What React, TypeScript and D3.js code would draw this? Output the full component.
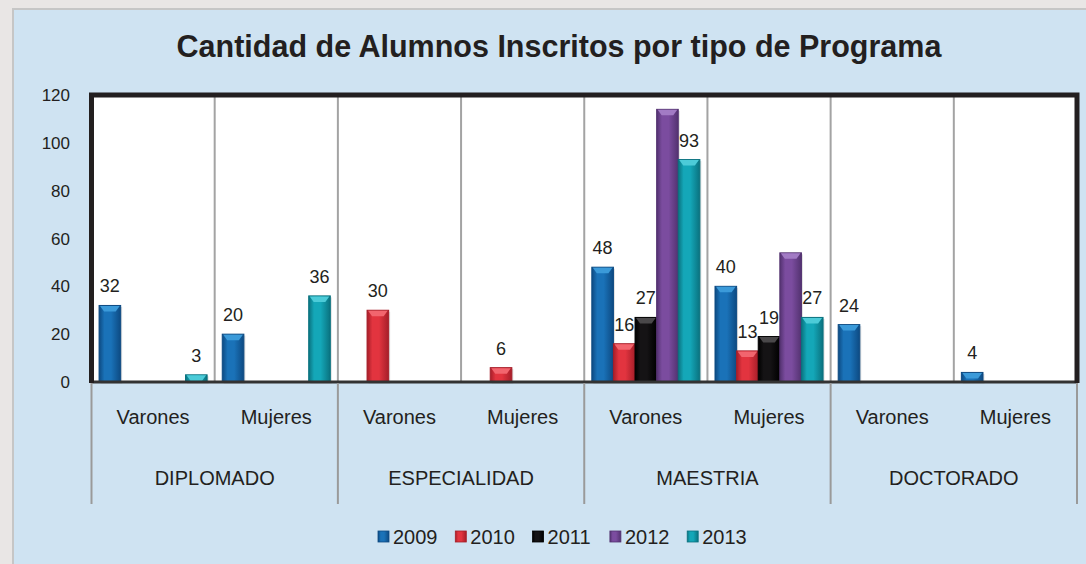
import React, { useEffect, useRef } from 'react';
import * as d3 from 'd3';

const programs = ['DIPLOMADO', 'ESPECIALIDAD', 'MAESTRIA', 'DOCTORADO'];
const genders = ['Varones', 'Mujeres'];
const years = ['2009', '2010', '2011', '2012', '2013'];

// one value per program x gender, in the order above
const values2009 = [32, 20, 0, 0, 48, 40, 24, 4];
const values2010 = [0, 0, 30, 6, 16, 13, 0, 0];
const values2011 = [0, 0, 0, 0, 27, 19, 0, 0];
const values2012 = [0, 0, 0, 0, 114, 54, 0, 0];
const values2013 = [3, 36, 0, 0, 93, 27, 0, 0];
const seriesValues = [values2009, values2010, values2011, values2012, values2013];
const labelled = [true, true, true, false, true];

const yTicks = [0, 20, 40, 60, 80, 100, 120];

// base / dark edge / light highlight
const palette = [
  ['#1a72b8', '#0d4a82', '#3b9ad9'],
  ['#e2343f', '#a61e29', '#f2656e'],
  ['#151315', '#000000', '#4a484a'],
  ['#7b4c9f', '#533270', '#a27bc4'],
  ['#14a7b8', '#0a727f', '#4ccbd8'],
];

const title = 'Cantidad de Alumnos Inscritos por tipo de Programa';
const font = '"Liberation Sans", Arial, sans-serif';

const App = () => {
  const ref = useRef<SVGSVGElement>(null);

  useEffect(() => {
    document.body.style.margin = '0';
    const svg = d3.select(ref.current);
    svg.selectAll('*').remove();

    const left = 91.5;
    const right = 1077;
    const top = 95;
    const bottom = 382;

    const keys = programs.flatMap((p) => genders.map((g) => `${p}|${g}`));
    const x = d3.scaleBand().domain(keys).range([left, right]).padding(0);
    const xProg = d3.scaleBand().domain(programs).range([left, right]).padding(0);
    const xYear = d3
      .scaleBand()
      .domain(years)
      .range([0, x.bandwidth()])
      .paddingInner(0)
      .paddingOuter(0.35);
    const y = d3.scaleLinear().domain([0, 120]).range([bottom, top]);

    const defs = svg.append('defs');
    palette.forEach((c, i) => {
      const g = defs
        .append('linearGradient')
        .attr('id', `grad${i}`)
        .attr('x1', 0)
        .attr('x2', 1)
        .attr('y1', 0)
        .attr('y2', 0);
      g.append('stop').attr('offset', '0%').attr('stop-color', c[1]);
      g.append('stop').attr('offset', '25%').attr('stop-color', c[0]);
      g.append('stop').attr('offset', '55%').attr('stop-color', c[0]);
      g.append('stop').attr('offset', '100%').attr('stop-color', c[1]);
    });

    // page + chart box
    svg.append('rect').attr('width', 1086).attr('height', 564).attr('fill', '#e9e6e5');
    svg
      .append('rect')
      .attr('x', 13)
      .attr('y', 9)
      .attr('width', 1090)
      .attr('height', 570)
      .attr('fill', '#cfe3f2')
      .attr('stroke', '#c6c6c6')
      .attr('stroke-width', 2);

    svg
      .append('text')
      .attr('x', 559)
      .attr('y', 57)
      .attr('text-anchor', 'middle')
      .attr('font-family', font)
      .attr('font-weight', 'bold')
      .attr('font-size', 30.5)
      .attr('fill', '#231f20')
      .text(title);

    // plot area
    svg
      .append('rect')
      .attr('x', left)
      .attr('y', top)
      .attr('width', right - left)
      .attr('height', bottom - top)
      .attr('fill', '#ffffff');

    svg
      .append('g')
      .selectAll('line')
      .data(keys.slice(1))
      .enter()
      .append('line')
      .attr('x1', (d) => x(d)!)
      .attr('x2', (d) => x(d)!)
      .attr('y1', top)
      .attr('y2', bottom)
      .attr('stroke', '#a3a3a3')
      .attr('stroke-width', 2);

    // bars
    const bars = svg.append('g');
    seriesValues.forEach((vals, si) => {
      vals.forEach((v, ki) => {
        if (!v) return;
        const bx = x(keys[ki])! + xYear(years[si])!;
        const bw = xYear.bandwidth();
        const by = y(v);
        const bh = y(0) - y(v);
        bars
          .append('rect')
          .attr('x', bx + 1.5)
          .attr('y', by + 1.5)
          .attr('width', bw)
          .attr('height', bh)
          .attr('fill', '#000')
          .attr('opacity', 0.12);
        bars
          .append('rect')
          .attr('x', bx)
          .attr('y', by)
          .attr('width', bw)
          .attr('height', bh)
          .attr('fill', `url(#grad${si})`)
          .attr('stroke', palette[si][1])
          .attr('stroke-width', 1);
        const bev = Math.min(6, bh);
        bars
          .append('path')
          .attr(
            'd',
            `M${bx + 1},${by + 0.5} L${bx + bw - 1},${by + 0.5} L${bx + bw - 5},${by + bev} L${bx + 5},${by + bev} Z`
          )
          .attr('fill', palette[si][2]);
        if (labelled[si]) {
          bars
            .append('text')
            .attr('x', bx + bw / 2)
            .attr('y', by - 13)
            .attr('text-anchor', 'middle')
            .attr('font-family', font)
            .attr('font-size', 18)
            .attr('fill', '#231f20')
            .text(v);
        }
      });
    });

    // frame
    svg
      .append('line')
      .attr('x1', left)
      .attr('x2', right)
      .attr('y1', bottom)
      .attr('y2', bottom)
      .attr('stroke', '#333333')
      .attr('stroke-width', 3);
    svg
      .append('path')
      .attr('d', `M${left},${bottom + 1} V${top} H${right} V${bottom + 1}`)
      .attr('fill', 'none')
      .attr('stroke', '#231f20')
      .attr('stroke-width', 5);

    // y axis labels
    svg
      .append('g')
      .selectAll('text')
      .data(yTicks)
      .enter()
      .append('text')
      .attr('x', 70)
      .attr('y', (d) => y(d) + 6)
      .attr('text-anchor', 'end')
      .attr('font-family', font)
      .attr('font-size', 17)
      .attr('fill', '#231f20')
      .text((d) => d);

    // category separators below the axis
    const bounds = [...programs.map((p) => xProg(p)!), right];
    svg
      .append('g')
      .selectAll('line')
      .data(bounds)
      .enter()
      .append('line')
      .attr('x1', (d) => d)
      .attr('x2', (d) => d)
      .attr('y1', bottom + 1)
      .attr('y2', 504)
      .attr('stroke', '#9a9a9a')
      .attr('stroke-width', 2);

    svg
      .append('g')
      .selectAll('text')
      .data(keys)
      .enter()
      .append('text')
      .attr('x', (d) => x(d)! + x.bandwidth() / 2)
      .attr('y', 424)
      .attr('text-anchor', 'middle')
      .attr('font-family', font)
      .attr('font-size', 20)
      .attr('fill', '#231f20')
      .text((d) => d.split('|')[1]);

    svg
      .append('g')
      .selectAll('text')
      .data(programs)
      .enter()
      .append('text')
      .attr('x', (d) => xProg(d)! + xProg.bandwidth() / 2)
      .attr('y', 485)
      .attr('text-anchor', 'middle')
      .attr('font-family', font)
      .attr('font-size', 20)
      .attr('fill', '#231f20')
      .text((d) => d);

    // legend
    const legend = svg.append('g');
    years.forEach((yr, i) => {
      const lx = 378 + i * 77.3;
      legend
        .append('rect')
        .attr('x', lx)
        .attr('y', 531)
        .attr('width', 11)
        .attr('height', 11)
        .attr('fill', `url(#grad${i})`)
        .attr('stroke', palette[i][1])
        .attr('stroke-width', 0.8);
      legend
        .append('text')
        .attr('x', lx + 15)
        .attr('y', 544)
        .attr('font-family', font)
        .attr('font-size', 20)
        .attr('fill', '#231f20')
        .text(yr);
    });
  }, []);

  return <svg ref={ref} width={1086} height={564} style={{ display: 'block' }} />;
};

export default App;
